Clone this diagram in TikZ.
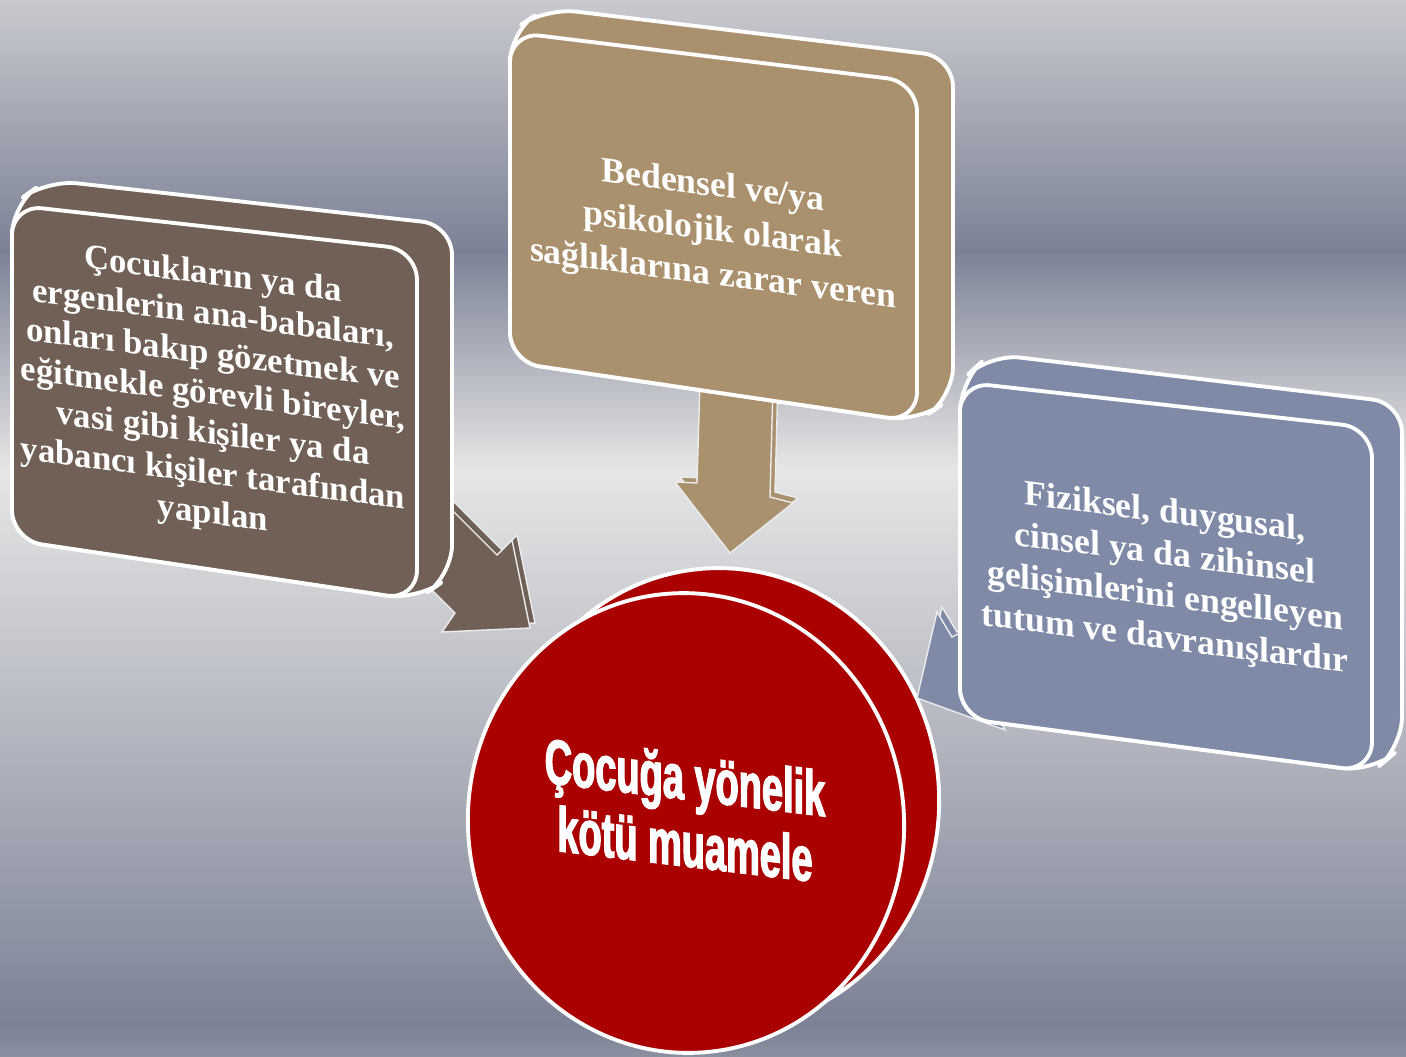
\documentclass[tikz,border=0pt]{standalone}
\usepackage{fontspec}
\setmainfont{Liberation Serif}
\newfontfamily\kalinfont[FakeStretch=0.6,FakeBold=2]{Liberation Sans}
\usepackage{tikz}

\definecolor{kahve}{RGB}{112,96,85}
\definecolor{bej}{RGB}{169,145,109}
\definecolor{mavigri}{RGB}{127,138,166}
\definecolor{kirmizi}{RGB}{170,0,0}
\definecolor{bgust}{RGB}{201,202,207}
\definecolor{bgkoyu}{RGB}{124,130,150}
\definecolor{bgacik}{RGB}{230,230,230}
\definecolor{bgalt}{RGB}{138,144,160}

\begin{document}
\begin{tikzpicture}[x=0.02cm,y=-0.02cm,
	kutu/.style={fill=#1,draw=white,line width=2.2pt,rounded corners=0.6cm,line join=round},
	ok/.style={fill=#1,draw=white!85!gray,line width=0.8pt,line join=miter},
	yazi/.style={text=white,align=center,font=\bfseries\fontsize{20.3}{#1}\selectfont,yslant=-0.13}]
	
	%Hintergrund
	\useasboundingbox (0,0) rectangle (1406,1057);
	\shade[top color=bgust,bottom color=bgkoyu] (0,0) rectangle (1406,250);
	\shade[top color=bgkoyu,bottom color=bgacik] (0,250) rectangle (1406,470);
	\shade[top color=bgacik,bottom color=bgkoyu] (0,470) rectangle (1406,1025);
	\shade[top color=bgkoyu,bottom color=bgalt] (0,1025) rectangle (1406,1057);
	
	%Kreis in der Mitte
	\draw[fill=kirmizi,draw=white,line width=2.2pt,rotate around={6:(721,798)}] (721,798) ellipse [x radius=218, y radius=230];
	\draw[fill=kirmizi,draw=white,line width=2.2pt,rotate around={6:(686,823)}] (686,823) ellipse [x radius=218, y radius=230];
	\node[text=white,align=center,font=\kalinfont\bfseries\fontsize{36}{38}\selectfont,yslant=-0.12] (merkez) at (685,810) {Çocuğa yönelik\\kötü muamele};
	
	%Pfeile
	\draw[ok=kahve,shift={(5,-5)}] (400,458) -- (497,555) -- (512,540) -- (530,628) -- (442,632) -- (455,613) -- (360,518) -- cycle;
	\draw[ok=kahve] (400,458) -- (497,555) -- (512,540) -- (530,628) -- (442,632) -- (455,613) -- (360,518) -- cycle;
	
	\draw[ok=bej,shift={(5,-5)}] (700,380) -- (697,483) -- (675,482) -- (730,553) -- (793,503) -- (770,497) -- (773,385) -- cycle;
	\draw[ok=bej] (700,380) -- (697,483) -- (675,482) -- (730,553) -- (793,503) -- (770,497) -- (773,385) -- cycle;
	
	\draw[ok=mavigri,shift={(5,-5)}] (1041,592) -- (952,637) -- (937,612) -- (917,698) -- (1005,730) -- (989,702) -- (1078,657) -- cycle;
	\draw[ok=mavigri] (1041,592) -- (952,637) -- (937,612) -- (917,698) -- (1005,730) -- (989,702) -- (1078,657) -- cycle;
	
	%Kasten links
	\draw[kutu=kahve] (12,205) -- (47,180) -- (452,225) -- (452,575) -- (417,600) -- (12,540) -- cycle;
	\draw[kutu=kahve] (12,205) -- (417,250) -- (417,600) -- (12,540) -- cycle;
	\node[yazi=22.7,font=\bfseries\fontsize{19.8}{22.7}\selectfont] (sol) at (213,396) {Çocukların ya da\\ergenlerin ana-babaları,\\onları bakıp gözetmek ve\\eğitmekle görevli bireyler,\\vasi gibi kişiler ya da\\yabancı kişiler tarafından\\yapılan};
	
	%Kasten oben
	\draw[kutu=bej] (510,32) -- (546,8) -- (953,57) -- (953,397) -- (917,422) -- (510,362) -- cycle;
	\draw[kutu=bej] (510,32) -- (917,82) -- (917,422) -- (510,362) -- cycle;
	\node[yazi=25.2] (ust) at (713,232) {Bedensel ve/ya\\psikolojik olarak\\sağlıklarına zarar veren};
	
	%Kasten rechts
	\draw[kutu=mavigri] (960,382) -- (990,354) -- (1402,403) -- (1402,747) -- (1372,772) -- (960,718) -- cycle;
	\draw[kutu=mavigri] (960,382) -- (1372,428) -- (1372,772) -- (960,718) -- cycle;
	\node[yazi=24] (sag) at (1165,577) {Fiziksel, duygusal,\\cinsel ya da zihinsel\\gelişimlerini engelleyen\\tutum ve davranışlardır};
	
\end{tikzpicture}
\end{document}
